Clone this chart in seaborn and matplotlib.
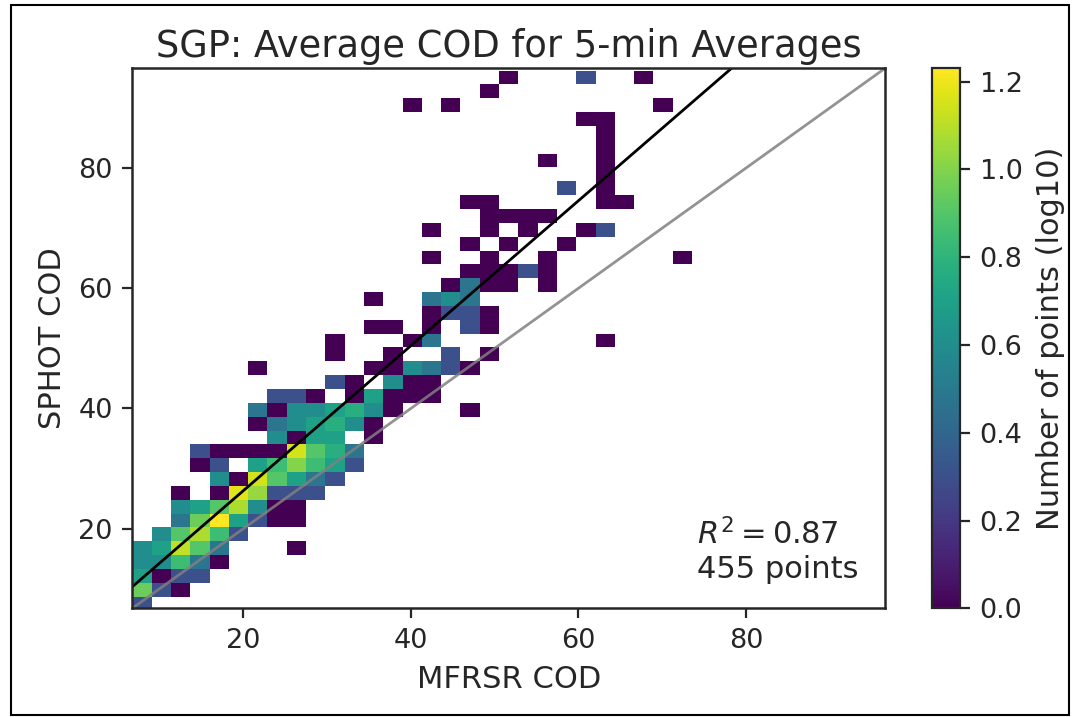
import numpy as np
import pandas as pd
import matplotlib
matplotlib.use("Agg")
import matplotlib.pyplot as plt
from matplotlib.patches import Rectangle
import seaborn as sns

# histogram grid (same bin width on both axes)
bin_width = 2.304
x_first_edge = 6.75
y_first_edge = 6.38
n_cols = 39
n_rows = 40
axis_min, axis_max = 6.75, 96.6
tick_values = [20, 40, 60, 80]

# non-empty cells: column index, row index (from bottom), number of points
cell_col = [0,
            0, 1, 2,
            0, 1, 2, 3,
            0, 1, 2, 3, 4,
            0, 1, 2, 3, 4, 8,
            1, 2, 3, 4, 5,
            2, 3, 4, 5, 6, 7, 8,
            2, 3, 4, 5, 6, 7, 8,
            2, 4, 5, 6, 7, 8, 9,
            4, 5, 6, 7, 8, 9, 10,
            3, 4, 6, 7, 8, 9, 10, 11,
            3, 4, 5, 6, 7, 8, 9, 10, 11,
            7, 8, 9, 10, 12,
            6, 7, 8, 9, 10, 11, 12,
            6, 7, 8, 9, 10, 11, 12, 13, 17,
            7, 8, 9, 11, 12, 13, 14, 15,
            10, 11, 13, 14, 15,
            6, 12, 13, 14, 15, 16, 17,
            10, 13, 16, 18,
            10, 14, 15, 24,
            12, 13, 15, 17, 18,
            15, 16, 17, 18,
            12, 15, 16, 17,
            16, 17, 18, 19, 21,
            17, 18, 19, 20, 21,
            15, 18, 21, 28,
            17, 19, 22,
            15, 18, 20, 23, 24,
            18, 19, 20, 21,
            17, 18, 24, 25,
            22, 24,
            24,
            21, 24,
            24,
            24,
            23, 24,
            14, 16, 27,
            18,
            19, 23, 26]
cell_row = [0,
            1, 1, 1,
            2, 2, 2, 2,
            3, 3, 3, 3, 3,
            4, 4, 4, 4, 4, 4,
            5, 5, 5, 5, 5,
            6, 6, 6, 6, 6, 6, 6,
            7, 7, 7, 7, 7, 7, 7,
            8, 8, 8, 8, 8, 8, 8,
            9, 9, 9, 9, 9, 9, 9,
            10, 10, 10, 10, 10, 10, 10, 10,
            11, 11, 11, 11, 11, 11, 11, 11, 11,
            12, 12, 12, 12, 12,
            13, 13, 13, 13, 13, 13, 13,
            14, 14, 14, 14, 14, 14, 14, 14, 14,
            15, 15, 15, 15, 15, 15, 15, 15,
            16, 16, 16, 16, 16,
            17, 17, 17, 17, 17, 17, 17,
            18, 18, 18, 18,
            19, 19, 19, 19,
            20, 20, 20, 20, 20,
            21, 21, 21, 21,
            22, 22, 22, 22,
            23, 23, 23, 23, 23,
            24, 24, 24, 24, 24,
            25, 25, 25, 25,
            26, 26, 26,
            27, 27, 27, 27, 27,
            28, 28, 28, 28,
            29, 29, 29, 29,
            30, 30,
            31,
            32, 32,
            33,
            34,
            35, 35,
            36, 36, 36,
            37,
            38, 38, 38]
cell_count = [2,
              9, 2, 1,
              5, 1, 2, 2,
              4, 4, 7, 3, 1,
              4, 5, 13, 8, 3, 1,
              4, 8, 12, 7, 2,
              3, 9, 17, 5, 2, 1, 1,
              4, 5, 8, 12, 4, 1, 1,
              1, 1, 15, 11, 2, 2, 2,
              4, 1, 14, 8, 5, 3, 2,
              1, 2, 5, 7, 10, 7, 5, 2,
              2, 1, 1, 1, 1, 14, 8, 6, 3,
              4, 1, 5, 5, 1,
              1, 3, 4, 5, 6, 4, 1,
              3, 1, 4, 4, 5, 6, 4, 1, 1,
              2, 2, 1, 1, 5, 1, 1, 1,
              2, 1, 4, 1, 1,
              1, 1, 1, 4, 3, 2, 1,
              1, 1, 2, 1,
              1, 1, 3, 1,
              1, 1, 1, 2, 1,
              1, 2, 2, 1,
              1, 3, 4, 3,
              1, 3, 1, 1, 1,
              1, 1, 1, 2, 1,
              1, 1, 1, 1,
              1, 1, 1,
              1, 1, 1, 1, 2,
              1, 1, 1, 1,
              1, 1, 1, 1,
              2, 1,
              1,
              1, 1,
              1,
              1,
              1, 1,
              1, 1, 1,
              1,
              1, 2, 1]

# fit line and annotation
fit_slope = 1.206
fit_intercept = 2.2
r_squared = 0.87
n_points = 455
max_count = 17
cbar_ticks = [0.0, 0.2, 0.4, 0.6, 0.8, 1.0, 1.2]

sns.set_style("ticks")
plt.rcParams["font.family"] = ["DejaVu Sans"]

counts = np.zeros((n_rows, n_cols))
counts[cell_row, cell_col] = cell_count
log_counts = np.full(counts.shape, np.nan)
log_counts[counts > 0] = np.log10(counts[counts > 0])
df = pd.DataFrame(log_counts)


def to_ix(v):
    return (np.asarray(v, dtype=float) - x_first_edge) / bin_width


def to_iy(v):
    return (np.asarray(v, dtype=float) - y_first_edge) / bin_width


fig = plt.figure(figsize=(10.74, 7.17), dpi=100)
ax = fig.add_axes([0.1232, 0.1516, 0.7008, 0.7531])
cax = fig.add_axes([0.868, 0.1516, 0.026, 0.7531])

sns.heatmap(df, ax=ax, cbar_ax=cax, cmap="viridis",
            vmin=0, vmax=np.log10(max_count),
            xticklabels=False, yticklabels=False)

# axes in data units
ax.set_xlim(to_ix(axis_min), to_ix(axis_max))
ax.set_ylim(to_iy(axis_min), to_iy(axis_max))
ax.set_xticks(to_ix(tick_values))
ax.set_xticklabels([str(t) for t in tick_values], rotation=0)
ax.set_yticks(to_iy(tick_values))
ax.set_yticklabels([str(t) for t in tick_values], rotation=0)
for sp in ax.spines.values():
    sp.set_visible(True)
    sp.set_linewidth(1.8)
    sp.set_color("0.15")
ax.tick_params(labelsize=19.5, length=7, width=1.6, pad=7,
               bottom=True, left=True)

# fit line and 1:1 line
xs = np.array([axis_min, axis_max])
ax.plot(to_ix(xs), to_iy(fit_slope * xs + fit_intercept), color="black", lw=2)
ax.plot(to_ix(xs), to_iy(xs), color="grey", lw=2, alpha=0.85)

ax.text(0.75, 0.045, f"$R^2 = {r_squared:.2f}$\n{n_points} points",
        transform=ax.transAxes, fontsize=22, ha="left", va="bottom")

ax.set_title("SGP: Average COD for 5-min Averages", fontsize=26.5, pad=8)
ax.set_xlabel("MFRSR COD", fontsize=22, labelpad=8)
ax.set_ylabel("SPHOT COD", fontsize=22, labelpad=8)

cbar = ax.collections[0].colorbar
cbar.outline.set_visible(True)
cbar.outline.set_linewidth(1.6)
cbar.outline.set_edgecolor("0.15")
cbar.set_ticks(cbar_ticks)
cbar.set_ticklabels([f"{t:.1f}" for t in cbar_ticks])
cbar.ax.tick_params(labelsize=19.5, length=7, width=1.6, pad=7)
cbar.set_label("Number of points (log10)", fontsize=22, labelpad=10)

# frame around the whole picture
fig.add_artist(Rectangle((0.0105, 0.003), 0.985, 0.99, transform=fig.transFigure,
                         fill=False, edgecolor="black", lw=1.5))

fig.savefig("out.png", dpi=100)
